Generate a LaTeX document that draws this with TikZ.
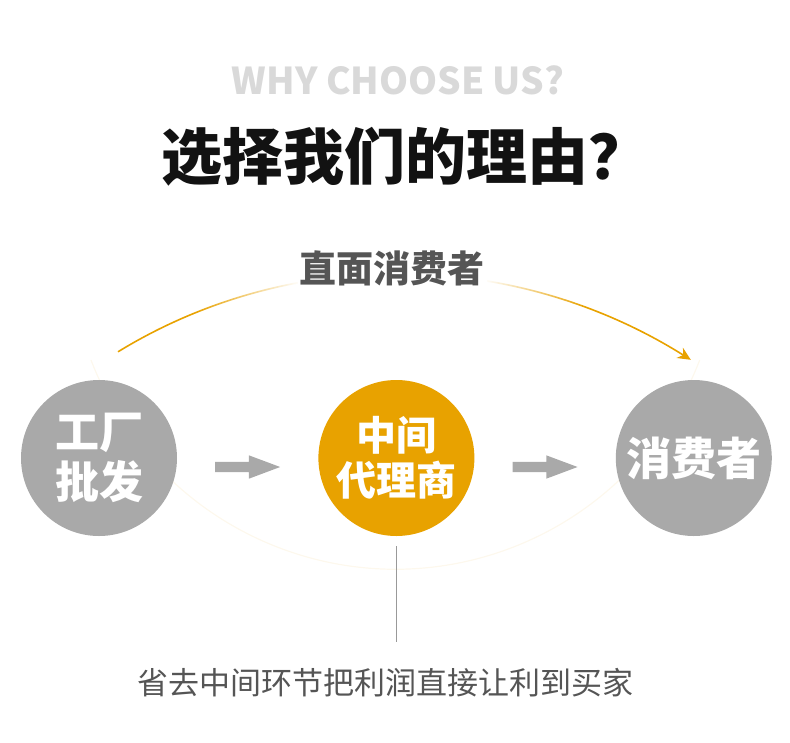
\documentclass[tikz,border=0pt]{standalone}
\usepackage{fontspec}
\setmainfont{Noto Sans CJK SC}
\usetikzlibrary{positioning,arrows.meta,shapes.arrows,fadings,calc}
\definecolor{amber}{HTML}{E8A200}
\definecolor{stone}{HTML}{A9A9A9}
\definecolor{ink}{HTML}{555555}

\begin{document}
\begin{tikzpicture}[
x=1pt, y=-1pt,
node distance=141pt,
stage/.style={
circle, fill=stone, minimum size=156pt, inner sep=0pt,
text=white, align=center,
font=\bfseries\fontsize{44}{50}\selectfont
},
push/.style={
shape=single arrow, fill=stone, draw=none,
minimum height=65pt, inner sep=5pt,
single arrow head extend=6.5pt, single arrow tip angle=41
},
caption/.style={text=ink, font=\fontsize{31}{31}\selectfont}
]
\useasboundingbox (0,0) rectangle (790,742);

% headings
\node[text=black!15, font=\bfseries\fontsize{37}{37}\selectfont] (why) at (398,80) {WHY CHOOSE US?};
\node[text=black!93, font=\bfseries\fontsize{61}{61}\selectfont] (title) at (405,157) {选择我们的理由？};

% faint ring behind the stages
\draw[line width=1.2pt, color=amber!7] (91,360) arc[start angle=159, end angle=21, radius=326];

\node[stage] (fac) at (99,458) {工厂\\批发};
\node[stage, fill=amber, right=of fac, font=\bfseries\fontsize{40}{45}\selectfont] (mid) {中间\\代理商};
\node[stage, right=of mid, font=\bfseries\fontsize{45}{50}\selectfont] (con) {消费者};

\node[push] (p1) at ($(fac)!0.5!(mid)+(-7,9)$) {};
\node[push] (p2) at ($(mid)!0.5!(con)+(-7,9)$) {};

% direct route over the top
\coordinate (arcL) at ([shift={(19,-28)}]fac.north);
\coordinate (arcR) at ([shift={(-3,-20)}]con.north);
\draw[amber, line width=1.6pt, -{Stealth[length=13pt,width=12pt,inset=4pt]}]
(arcL) .. controls (294,244) and (516,250) .. (arcR);
\fill[white, path fading=west] (195,262) rectangle (300,318);
\fill[white, path fading=east] (484,262) rectangle (585,312);
\node[caption, font=\bfseries\fontsize{37}{37}\selectfont, fill=white, inner xsep=2pt] (direct) at (392,268) {直面消费者};

% note below
\node[caption] (note) at (385,683) {省去中间环节把利润直接让利到买家};
\draw[black!40, line width=1pt] ([shift={(0,10)}]mid.south) -- ++(0,96);

\end{tikzpicture}
\end{document}
